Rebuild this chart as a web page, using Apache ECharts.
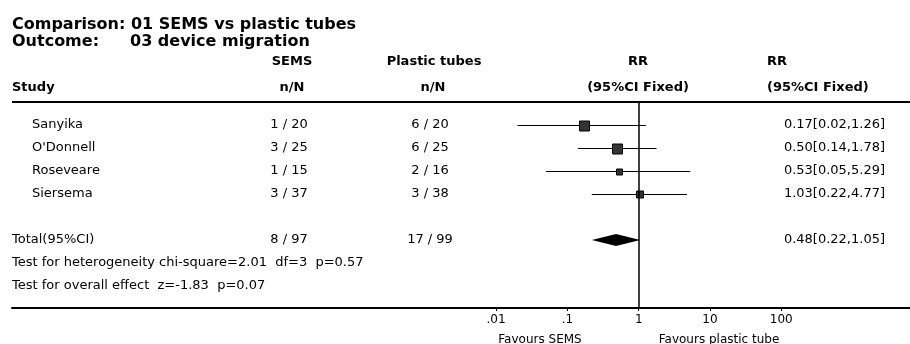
<!DOCTYPE html>
<html>
<head>
<meta charset="utf-8">
<script src="https://cdn.jsdelivr.net/npm/echarts@6/dist/echarts.min.js"></script>
<style>
  html, body { margin: 0; padding: 0; background: #fff; }
  #chart { width: 910px; height: 344px; }
</style>
</head>
<body>
<div id="chart"></div>
<script>
// values
const studies = ["Sanyika", "O'Donnell", "Roseveare", "Siersema"];
const semsN = ["1 / 20", "3 / 25", "1 / 15", "3 / 37"];
const plasticN = ["6 / 20", "6 / 25", "2 / 16", "3 / 38"];
const rr = [0.17, 0.50, 0.53, 1.03];
const rrLow = [0.02, 0.14, 0.05, 0.22];
const rrHigh = [1.26, 1.78, 5.29, 4.77];
const weights = [35.5, 35.5, 11.5, 17.5]; // drives box size
const totalN = ["8 / 97", "17 / 99"];
const totalRR = [0.48, 0.22, 1.05]; // rr, low, high
const hetStats = [2.01, 3, 0.57]; // chi-square, df, p
const overallStats = [-1.83, 0.07]; // z, p
const tickValues = [0.01, 0.1, 1, 10, 100];
const tickLabels = [".01", ".1", "1", "10", "100"];

const studyRows = [1, 2, 3, 4];
const totalRow = 6;

const FONT = "DejaVu Sans";
const chart = echarts.init(document.getElementById("chart"));

const fmt = (v) => v.toFixed(2);
const ciText = (r, l, h) => fmt(r) + "[" + fmt(l) + "," + fmt(h) + "]";
const crisp = (v) => Math.round(v) + 0.5;

// one scatter series per text column, laid on the pixel grid (grid 1)
const textCol = (x, rows, texts, pos) => ({
  type: "scatter",
  xAxisIndex: 1,
  yAxisIndex: 1,
  symbolSize: 0,
  silent: true,
  itemStyle: { opacity: 1 },
  data: rows.map((r, i) => ({ value: [x, r], name: texts[i] })),
  label: {
    show: true,
    position: pos,
    distance: 0,
    formatter: "{b}",
    color: "#000",
    opacity: 1,
    fontFamily: FONT,
    fontSize: 13,
  },
});

const headText = (x, y, text, align, bold, size) => ({
  type: "text",
  x: x,
  y: y,
  style: {
    text: text,
    fill: "#000",
    font: (bold ? "bold " : "") + (size || 13) + "px '" + FONT + "'",
    textAlign: align || "left",
    textVerticalAlign: "bottom",
  },
});

const rowsMax = (308 - 102) / 23;
const logMin = Math.pow(10, (12 - 638.7) / 71.3);
const logMax = Math.pow(10, (910 - 638.7) / 71.3);

const option = {
  animation: false,
  grid: [
    { left: 12, right: 0, top: 102, bottom: 36 },
    { left: 0, right: 0, top: 102, bottom: 36 },
  ],
  xAxis: [
    {
      type: "log",
      gridIndex: 0,
      position: "bottom",
      min: logMin,
      max: logMax,
      axisLine: { show: true, onZero: false, lineStyle: { color: "#000", width: 2 } },
      axisTick: {
        show: true,
        length: 3,
        customValues: tickValues,
        lineStyle: { color: "#000" },
      },
      axisLabel: {
        show: true,
        customValues: tickValues,
        formatter: (v) => tickLabels[tickValues.findIndex((t) => Math.abs(t - v) < t * 1e-6)],
        color: "#000",
        fontFamily: FONT,
        fontSize: 12,
        margin: 6,
      },
      splitLine: { show: false },
    },
    { type: "value", gridIndex: 1, min: 0, max: 910, show: false },
  ],
  yAxis: [
    { type: "value", gridIndex: 0, min: 0, max: rowsMax, inverse: true, show: false },
    { type: "value", gridIndex: 1, min: 0, max: rowsMax, inverse: true, show: false },
  ],
  graphic: [
    headText(12, 33, "Comparison: 01 SEMS vs plastic tubes", "left", true, 16),
    headText(12, 50, "Outcome:", "left", true, 16),
    headText(130, 50, "03 device migration", "left", true, 16),
    headText(12, 94, "Study", "left", true),
    headText(292, 68, "SEMS", "center", true),
    headText(292, 94, "n/N", "center", true),
    headText(434, 68, "Plastic tubes", "center", true),
    headText(433, 94, "n/N", "center", true),
    headText(638, 68, "RR", "center", true),
    headText(638, 94, "(95%CI Fixed)", "center", true),
    headText(767, 68, "RR", "left", true),
    headText(767, 94, "(95%CI Fixed)", "left", true),
    {
      type: "line",
      shape: { x1: 12, y1: 102, x2: 910, y2: 102 },
      style: { stroke: "#000", lineWidth: 2 },
    },
    headText(540, 346, "Favours SEMS", "center", false, 12),
    headText(719, 346, "Favours plastic tube", "center", false, 12),
  ],
  series: [
    {
      // CI whiskers and weighted boxes
      type: "custom",
      xAxisIndex: 0,
      yAxisIndex: 0,
      silent: true,
      data: studies.map((s, i) => [rr[i], studyRows[i], rrLow[i], rrHigh[i], weights[i]]),
      encode: { x: [0, 2, 3], y: 1 },
      renderItem: (params, api) => {
        const row = api.value(1);
        const c = api.coord([api.value(0), row]);
        const a = api.coord([api.value(2), row]);
        const b = api.coord([api.value(3), row]);
        const s = Math.round(Math.sqrt(api.value(4)) * 1.7);
        const y = crisp(c[1]);
        return {
          type: "group",
          children: [
            {
              type: "line",
              shape: { x1: a[0], y1: y, x2: b[0], y2: y },
              style: { stroke: "#000", lineWidth: 1 },
            },
            {
              type: "rect",
              shape: { x: Math.round(c[0] - s / 2) + 0.5, y: Math.round(y - s / 2), width: s, height: s },
              style: { fill: "#333", stroke: "#000", lineWidth: 1 },
            },
          ],
        };
      },
      markLine: {
        silent: true,
        symbol: "none",
        label: { show: false },
        lineStyle: { color: "#000", width: 1.5, type: "solid" },
        data: [{ xAxis: 1 }],
      },
    },
    {
      // pooled estimate diamond
      type: "custom",
      xAxisIndex: 0,
      yAxisIndex: 0,
      silent: true,
      data: [[totalRR[0], totalRow, totalRR[1], totalRR[2]]],
      encode: { x: [0, 2, 3], y: 1 },
      renderItem: (params, api) => {
        const row = api.value(1);
        const c = api.coord([api.value(0), row]);
        const a = api.coord([api.value(2), row]);
        const b = api.coord([api.value(3), row]);
        return {
          type: "polygon",
          shape: { points: [[a[0], a[1]], [c[0], c[1] - 6], [b[0], b[1]], [c[0], c[1] + 6]] },
          style: { fill: "#000" },
        };
      },
    },
    textCol(32, studyRows, studies, "right"),
    textCol(12, [totalRow, 7, 8], [
      "Total(95%CI)",
      "Test for heterogeneity chi-square=" + hetStats[0].toFixed(2) + "  df=" + hetStats[1] + "  p=" + hetStats[2].toFixed(2),
      "Test for overall effect  z=" + overallStats[0].toFixed(2) + "  p=" + overallStats[1].toFixed(2),
    ], "right"),
    textCol(289, studyRows.concat([totalRow]), semsN.concat([totalN[0]]), "inside"),
    textCol(430, studyRows.concat([totalRow]), plasticN.concat([totalN[1]]), "inside"),
    textCol(885, studyRows.concat([totalRow]),
      rr.map((v, i) => ciText(v, rrLow[i], rrHigh[i])).concat([ciText(totalRR[0], totalRR[1], totalRR[2])]),
      "left"),
  ],
};

chart.setOption(option);
window.addEventListener("resize", () => chart.resize());
</script>
</body>
</html>
